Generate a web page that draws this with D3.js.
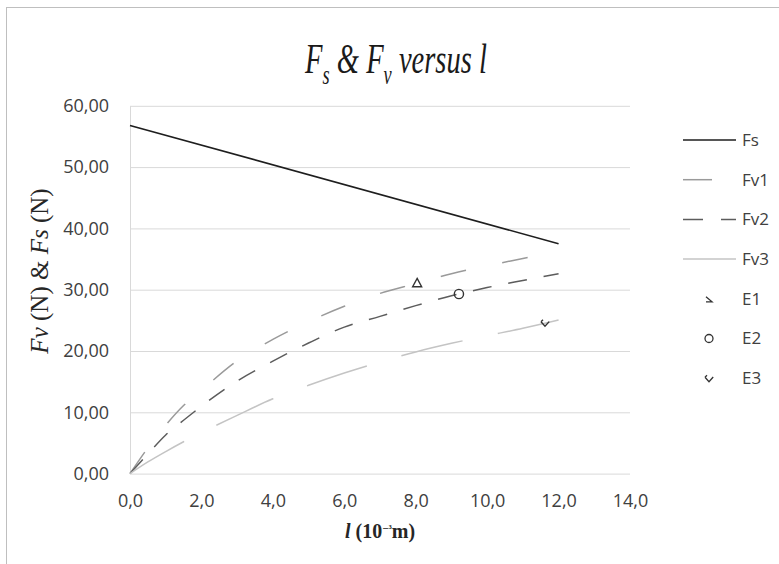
<!DOCTYPE html>
<meta charset="utf-8">
<script src="https://d3js.org/d3.v7.min.js"></script>
<style>
  body { margin: 0; background: #fff; }
  .tick text { font-family: "Open Sans", sans-serif; font-size: 18px; fill: #404040; }
  .legend text { font-family: "Open Sans", sans-serif; font-size: 17px; fill: #404040; }
</style>
<div id="chart"></div>
<script>

// data
var lValues = [0, 0.5, 1, 1.5, 2, 3, 4, 5, 6, 7, 8, 9, 10, 11, 12];
var fv1 = [0, 4.2, 7.9, 11.1, 13.6, 18.4, 21.9, 24.8, 27.3, 29.4, 31.0, 32.6, 33.9, 35.1, 36.3];
var fv2 = [0, 3.2, 6.3, 8.7, 11.0, 15.1, 18.35, 21.3, 23.9, 25.65, 27.4, 29.0, 30.35, 31.5, 32.6];
var fv3 = [0, 1.9, 3.6, 5.2, 6.7, 9.5, 12.2, 14.4, 16.4, 18.2, 19.85, 21.25, 22.5, 23.7, 25.05];
var fsL = [0, 12];
var fsF = [56.8, 37.5];
var expNames = ["E1", "E2", "E3"];
var expL = [8.04, 9.21, 11.62];
var expF = [31.1, 29.3, 24.6];
var xTicks = [0, 2, 4, 6, 8, 10, 12, 14];
var yTicks = [0, 10, 20, 30, 40, 50, 60];

var W = 779, H = 564;
var margin = {top: 105.8, left: 130, right: 149, bottom: 90.4};

var svg = d3.select("#chart").append("svg")
    .attr("width", W)
    .attr("height", H);

// chart frame (only left and top visible)
svg.append("rect")
    .attr("x", 6.5).attr("y", 7.5)
    .attr("width", 900).attr("height", 700)
    .attr("fill", "none")
    .attr("stroke", "#bfbfbf");

var x = d3.scaleLinear().domain([0, 14]).range([margin.left, W - margin.right]);
var y = d3.scaleLinear().domain([0, 60]).range([H - margin.bottom, margin.top]);

var locale = d3.formatLocale({decimal: ",", thousands: ".", grouping: [3], currency: ["", ""]});

// y axis + gridlines
var yAxis = svg.append("g")
    .attr("transform", "translate(" + margin.left + ",0)")
    .call(d3.axisLeft(y).tickValues(yTicks).tickFormat(locale.format(".2f"))
      .tickSize(-(W - margin.right - margin.left)).tickSizeOuter(0).tickPadding(21));
yAxis.selectAll(".tick line").attr("stroke", "#d9d9d9");
yAxis.select(".domain").attr("stroke", "#d9d9d9");

var xAxis = svg.append("g")
    .attr("transform", "translate(0," + y(0) + ")")
    .call(d3.axisBottom(x).tickValues(xTicks).tickFormat(locale.format(".1f"))
      .tickSize(0).tickPadding(21));
xAxis.select(".domain").remove();

// lines
var line = d3.line()
    .x(function(d) { return x(d[0]); })
    .y(function(d) { return y(d[1]); })
    .curve(d3.curveMonotoneX);

var series = [
  {name: "Fs", l: fsL, f: fsF, color: "#1e1e1e", dash: null, width: 1.6},
  {name: "Fv1", l: lValues, f: fv1, color: "#9a9a9a", dash: "26,37", width: 1.5},
  {name: "Fv2", l: lValues, f: fv2, color: "#5c5c5c", dash: "19,17", width: 1.5},
  {name: "Fv3", l: lValues, f: fv3, color: "#c4c4c4", dash: "63,36", width: 1.5}
];

series.forEach(function(s) {
  svg.append("path")
    .datum(s.l.map(function(v, i) { return [v, s.f[i]]; }))
    .attr("d", line)
    .attr("fill", "none")
    .attr("stroke", s.color)
    .attr("stroke-width", s.width)
    .attr("stroke-dasharray", s.dash);
});

// experiment markers
var markerPaths = {
  E1: "M0,-4.5L4.5,3.8L-4.5,3.8Z",
  E3: "M-4,-1L0,3.5L4.2,-1.2M-4,-1L-2,-3"
};
expNames.forEach(function(n, i) {
  var g = svg.append("g").attr("transform", "translate(" + x(expL[i]) + "," + y(expF[i]) + ")");
  if (n === "E2") {
    g.append("circle").attr("r", 4.6).attr("fill", "none").attr("stroke", "#333").attr("stroke-width", 1.4);
  } else {
    g.append("path").attr("d", markerPaths[n]).attr("fill", "none").attr("stroke", "#333").attr("stroke-width", 1.4);
  }
});

// legend
var legend = svg.append("g").attr("class", "legend");
var legY0 = 140, legStep = 39.7;
series.forEach(function(s, i) {
  var yy = legY0 + i * legStep;
  legend.append("line")
    .attr("x1", 683).attr("x2", 736).attr("y1", yy).attr("y2", yy)
    .attr("stroke", s.color).attr("stroke-width", s.width)
    .attr("stroke-dasharray", s.name === "Fv1" ? "29,30" : s.name === "Fv2" ? "20,18" : null);
  legend.append("text").attr("x", 742).attr("y", yy).attr("dy", "0.35em").text(s.name);
});
var legMarks = {
  E1: "M-3,-2L3,3L-3,3",
  E3: "M-4,-1L0,3.5L4.2,-1.2M-4,-1L-2,-3"
};
expNames.forEach(function(n, i) {
  var yy = legY0 + (4 + i) * legStep;
  var g = legend.append("g").attr("transform", "translate(709," + yy + ")");
  if (n === "E2") {
    g.append("circle").attr("r", 4).attr("fill", "none").attr("stroke", "#333").attr("stroke-width", 1.3);
  } else {
    g.append("path").attr("d", legMarks[n]).attr("fill", "none").attr("stroke", "#333").attr("stroke-width", 1.3);
  }
  legend.append("text").attr("x", 742).attr("y", yy).attr("dy", "0.35em").text(n);
});

// title (condensed serif italic)
var title = svg.append("text")
    .attr("transform", "translate(396,73) scale(0.68,1)")
    .attr("text-anchor", "middle")
    .style("font-family", "'Liberation Serif', 'Times New Roman', serif")
    .style("font-style", "italic")
    .style("font-size", "42px")
    .style("fill", "#1a1a1a");
title.append("tspan").text("F");
title.append("tspan").attr("dy", 11).style("font-size", "27px").text("s");
title.append("tspan").attr("dy", -11).text(" & F");
title.append("tspan").attr("dy", 11).style("font-size", "27px").text("v");
title.append("tspan").attr("dy", -11).text(" versus l");

// x axis title
var xt = svg.append("text")
    .attr("x", 380).attr("y", 538)
    .attr("text-anchor", "middle")
    .style("font-family", "'Liberation Serif', 'Times New Roman', serif")
    .style("font-weight", "bold")
    .style("font-size", "20px")
    .style("fill", "#262626");
xt.append("tspan").style("font-style", "italic").text("l");
xt.append("tspan").text(" (10");
xt.append("tspan").attr("dy", -6).style("font-size", "11px").text("\u2212\u00b3");
xt.append("tspan").attr("dy", 6).text("m)");

// y axis title
var yt = svg.append("text")
    .attr("transform", "translate(48,271) rotate(-90)")
    .attr("text-anchor", "middle")
    .style("font-family", "'Liberation Serif', 'Times New Roman', serif")
    .style("font-size", "25px")
    .style("fill", "#262626");
yt.append("tspan").style("font-style", "italic").text("Fv");
yt.append("tspan").text(" (N) & ");
yt.append("tspan").style("font-style", "italic").text("Fs");
yt.append("tspan").text(" (N)");

</script>
